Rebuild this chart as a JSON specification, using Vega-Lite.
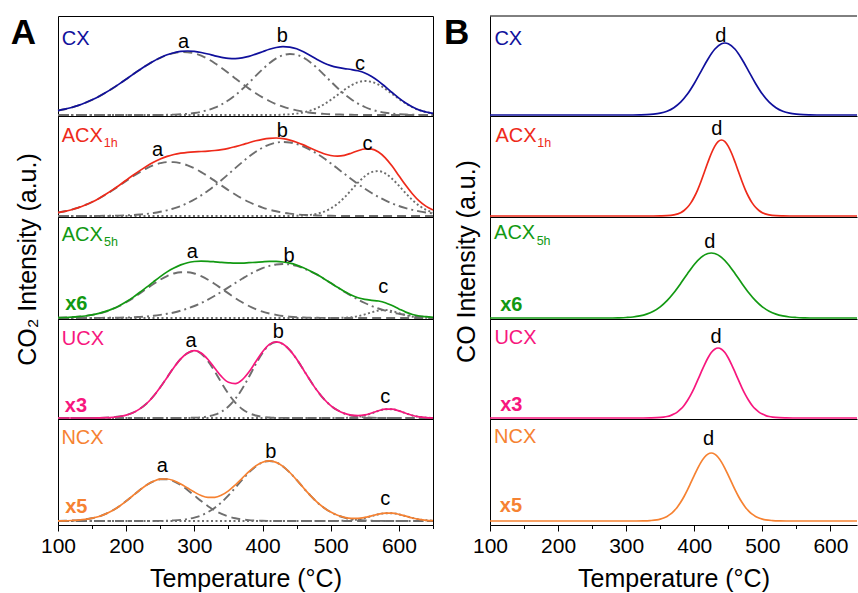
{
  "$schema": "https://vega.github.io/schema/vega-lite/v6.json",
  "background": "white",
  "padding": {"left": 9, "top": 14, "right": 0, "bottom": 0},
  "config": {
    "font": "Liberation Sans",
    "view": {"stroke": "black", "strokeWidth": 1},
    "axis": {"grid": false}
  },
  "datasets": {
    "A": [
      {"s":"CX","T":100,"tot":5.4,"a":5.4,"b":1,"c":1},{"s":"CX","T":110,"tot":6.8,"a":6.8,"b":1,"c":1},{"s":"CX","T":120,"tot":8.5,"a":8.5,"b":1,"c":1},{"s":"CX","T":130,"tot":10.6,"a":10.6,"b":1,"c":1},{"s":"CX","T":140,"tot":13.2,"a":13.2,"b":1,"c":1},{"s":"CX","T":150,"tot":16.2,"a":16.2,"b":1,"c":1},{"s":"CX","T":160,"tot":19.6,"a":19.6,"b":1,"c":1},{"s":"CX","T":170,"tot":23.4,"a":23.4,"b":1,"c":1},{"s":"CX","T":180,"tot":27.6,"a":27.6,"b":1,"c":1},{"s":"CX","T":190,"tot":32.1,"a":32.1,"b":1,"c":1},{"s":"CX","T":200,"tot":36.8,"a":36.8,"b":1,"c":1},{"s":"CX","T":210,"tot":41.6,"a":41.6,"b":1,"c":1},{"s":"CX","T":220,"tot":46.3,"a":46.3,"b":1,"c":1},{"s":"CX","T":230,"tot":50.7,"a":50.7,"b":1,"c":1},{"s":"CX","T":240,"tot":54.8,"a":54.8,"b":1,"c":1},{"s":"CX","T":250,"tot":58.2,"a":58.2,"b":1,"c":1},{"s":"CX","T":260,"tot":61.2,"a":61.0,"b":1.2,"c":1},{"s":"CX","T":270,"tot":63.3,"a":62.9,"b":1.4,"c":1},{"s":"CX","T":280,"tot":64.6,"a":63.9,"b":1.7,"c":1},{"s":"CX","T":290,"tot":65.0,"a":63.8,"b":2.2,"c":1},{"s":"CX","T":300,"tot":64.6,"a":62.6,"b":3.0,"c":1},{"s":"CX","T":310,"tot":63.5,"a":60.3,"b":4.2,"c":1},{"s":"CX","T":320,"tot":62.0,"a":57.0,"b":6.0,"c":1},{"s":"CX","T":330,"tot":60.2,"a":52.8,"b":8.4,"c":1},{"s":"CX","T":340,"tot":58.7,"a":48.1,"b":11.6,"c":1},{"s":"CX","T":350,"tot":57.6,"a":42.9,"b":15.7,"c":1},{"s":"CX","T":360,"tot":57.4,"a":37.6,"b":20.8,"c":1},{"s":"CX","T":370,"tot":58.1,"a":32.4,"b":26.7,"c":1},{"s":"CX","T":380,"tot":59.6,"a":27.4,"b":33.2,"c":1},{"s":"CX","T":390,"tot":61.9,"a":22.8,"b":40.1,"c":1},{"s":"CX","T":400,"tot":64.3,"a":18.6,"b":46.7,"c":1},{"s":"CX","T":410,"tot":66.7,"a":15.0,"b":52.7,"c":1},{"s":"CX","T":420,"tot":68.5,"a":11.9,"b":57.6,"c":1},{"s":"CX","T":430,"tot":69.4,"a":9.3,"b":60.7,"c":1.35},{"s":"CX","T":440,"tot":68.9,"a":7.2,"b":62.0,"c":1.7},{"s":"CX","T":450,"tot":67.2,"a":5.6,"b":61.2,"c":2.4},{"s":"CX","T":460,"tot":64.2,"a":4.3,"b":58.3,"c":3.6},{"s":"CX","T":470,"tot":60.5,"a":3.3,"b":53.8,"c":5.4},{"s":"CX","T":480,"tot":56.6,"a":2.6,"b":48.0,"c":8.0},{"s":"CX","T":490,"tot":53.1,"a":2.1,"b":41.4,"c":11.6},{"s":"CX","T":500,"tot":50.4,"a":1.7,"b":34.6,"c":16.1},{"s":"CX","T":510,"tot":48.6,"a":1.5,"b":28.0,"c":21.1},{"s":"CX","T":520,"tot":47.4,"a":1.3,"b":21.9,"c":26.2},{"s":"CX","T":530,"tot":46.5,"a":1.2,"b":16.7,"c":30.6},{"s":"CX","T":540,"tot":45.2,"a":1.1,"b":12.4,"c":33.7},{"s":"CX","T":550,"tot":43.0,"a":1,"b":9.0,"c":35.0},{"s":"CX","T":560,"tot":39.5,"a":1,"b":6.4,"c":34.1},{"s":"CX","T":570,"tot":34.9,"a":1,"b":4.5,"c":31.4},{"s":"CX","T":580,"tot":29.3,"a":1,"b":3.2,"c":27.1},{"s":"CX","T":590,"tot":23.5,"a":1,"b":2.4,"c":22.1},{"s":"CX","T":600,"tot":17.9,"a":1,"b":1.8,"c":17.1},{"s":"CX","T":610,"tot":13.0,"a":1,"b":1.5,"c":12.5},{"s":"CX","T":620,"tot":9.0,"a":1,"b":1.3,"c":8.7},{"s":"CX","T":630,"tot":5.9,"a":1,"b":1.1,"c":5.8},{"s":"CX","T":640,"tot":4.0,"a":1,"b":1.1,"c":3.9},{"s":"CX","T":650,"tot":2.6,"a":1,"b":1,"c":2.6},
      {"s":"ACX1h","T":100,"tot":4.4,"a":4.4,"b":1,"c":1},{"s":"ACX1h","T":110,"tot":5.7,"a":5.7,"b":1,"c":1},{"s":"ACX1h","T":120,"tot":7.3,"a":7.3,"b":1,"c":1},{"s":"ACX1h","T":130,"tot":9.4,"a":9.4,"b":1,"c":1},{"s":"ACX1h","T":140,"tot":12.0,"a":12.0,"b":1,"c":1},{"s":"ACX1h","T":150,"tot":15.0,"a":15.0,"b":1,"c":1},{"s":"ACX1h","T":160,"tot":18.6,"a":18.5,"b":1.1,"c":1},{"s":"ACX1h","T":170,"tot":22.7,"a":22.5,"b":1.2,"c":1},{"s":"ACX1h","T":180,"tot":27.1,"a":26.8,"b":1.3,"c":1},{"s":"ACX1h","T":190,"tot":31.8,"a":31.4,"b":1.4,"c":1},{"s":"ACX1h","T":200,"tot":36.8,"a":36.1,"b":1.7,"c":1},{"s":"ACX1h","T":210,"tot":41.7,"a":40.7,"b":2.0,"c":1},{"s":"ACX1h","T":220,"tot":46.4,"a":44.9,"b":2.5,"c":1},{"s":"ACX1h","T":230,"tot":50.8,"a":48.7,"b":3.1,"c":1},{"s":"ACX1h","T":240,"tot":54.7,"a":51.7,"b":4.0,"c":1},{"s":"ACX1h","T":250,"tot":58.0,"a":53.8,"b":5.2,"c":1},{"s":"ACX1h","T":260,"tot":60.6,"a":54.9,"b":6.7,"c":1},{"s":"ACX1h","T":270,"tot":62.5,"a":54.9,"b":8.6,"c":1},{"s":"ACX1h","T":280,"tot":63.8,"a":53.8,"b":11.0,"c":1},{"s":"ACX1h","T":290,"tot":64.7,"a":51.7,"b":14.0,"c":1},{"s":"ACX1h","T":300,"tot":65.2,"a":48.7,"b":17.5,"c":1},{"s":"ACX1h","T":310,"tot":65.5,"a":44.9,"b":21.6,"c":1},{"s":"ACX1h","T":320,"tot":65.9,"a":40.7,"b":26.2,"c":1},{"s":"ACX1h","T":330,"tot":66.5,"a":36.1,"b":31.4,"c":1},{"s":"ACX1h","T":340,"tot":67.4,"a":31.4,"b":37.0,"c":1},{"s":"ACX1h","T":350,"tot":68.7,"a":26.8,"b":42.9,"c":1},{"s":"ACX1h","T":360,"tot":70.4,"a":22.5,"b":48.9,"c":1},{"s":"ACX1h","T":370,"tot":72.2,"a":18.5,"b":54.7,"c":1},{"s":"ACX1h","T":380,"tot":74.3,"a":15.0,"b":60.3,"c":1},{"s":"ACX1h","T":390,"tot":76.2,"a":12.0,"b":65.2,"c":1},{"s":"ACX1h","T":400,"tot":77.7,"a":9.4,"b":69.3,"c":1},{"s":"ACX1h","T":410,"tot":78.7,"a":7.3,"b":72.4,"c":1},{"s":"ACX1h","T":420,"tot":79.0,"a":5.7,"b":74.3,"c":1},{"s":"ACX1h","T":430,"tot":78.4,"a":4.4,"b":75.0,"c":1},{"s":"ACX1h","T":440,"tot":76.9,"a":3.4,"b":74.5,"c":1},{"s":"ACX1h","T":450,"tot":74.8,"a":2.6,"b":73.0,"c":1.2},{"s":"ACX1h","T":460,"tot":72.1,"a":2.1,"b":70.5,"c":1.5},{"s":"ACX1h","T":470,"tot":69.0,"a":1.7,"b":67.2,"c":2.1},{"s":"ACX1h","T":480,"tot":66.0,"a":1.5,"b":63.2,"c":3.3},{"s":"ACX1h","T":490,"tot":63.3,"a":1.3,"b":58.7,"c":5.3},{"s":"ACX1h","T":500,"tot":61.5,"a":1.2,"b":53.7,"c":8.6},{"s":"ACX1h","T":510,"tot":60.9,"a":1.1,"b":48.5,"c":13.3},{"s":"ACX1h","T":520,"tot":61.7,"a":1,"b":43.2,"c":19.5},{"s":"ACX1h","T":530,"tot":63.8,"a":1,"b":38.0,"c":26.8},{"s":"ACX1h","T":540,"tot":66.3,"a":1,"b":33.0,"c":34.3},{"s":"ACX1h","T":550,"tot":68.0,"a":1,"b":28.3,"c":40.7},{"s":"ACX1h","T":560,"tot":67.9,"a":1,"b":24.0,"c":44.9},{"s":"ACX1h","T":570,"tot":65.0,"a":1,"b":20.1,"c":45.9},{"s":"ACX1h","T":580,"tot":59.2,"a":1,"b":16.6,"c":43.6},{"s":"ACX1h","T":590,"tot":50.9,"a":1,"b":13.6,"c":38.3},{"s":"ACX1h","T":600,"tot":41.3,"a":1,"b":11.0,"c":31.3},{"s":"ACX1h","T":610,"tot":31.7,"a":1,"b":8.9,"c":23.8},{"s":"ACX1h","T":620,"tot":23.0,"a":1,"b":7.1,"c":16.9},{"s":"ACX1h","T":630,"tot":15.8,"a":1,"b":5.6,"c":11.2},{"s":"ACX1h","T":640,"tot":10.6,"a":1,"b":4.5,"c":7.1},{"s":"ACX1h","T":650,"tot":7.0,"a":1,"b":3.6,"c":4.4},
      {"s":"ACX5h","T":100,"tot":1.3,"a":1.3,"b":1,"c":1},{"s":"ACX5h","T":110,"tot":1.5,"a":1.5,"b":1,"c":1},{"s":"ACX5h","T":120,"tot":1.8,"a":1.8,"b":1,"c":1},{"s":"ACX5h","T":130,"tot":2.3,"a":2.3,"b":1,"c":1},{"s":"ACX5h","T":140,"tot":3.0,"a":3.0,"b":1,"c":1},{"s":"ACX5h","T":150,"tot":4.1,"a":4.1,"b":1,"c":1},{"s":"ACX5h","T":160,"tot":5.6,"a":5.5,"b":1.1,"c":1},{"s":"ACX5h","T":170,"tot":7.6,"a":7.4,"b":1.2,"c":1},{"s":"ACX5h","T":180,"tot":10.1,"a":9.9,"b":1.2,"c":1},{"s":"ACX5h","T":190,"tot":13.3,"a":13.0,"b":1.3,"c":1},{"s":"ACX5h","T":200,"tot":17.2,"a":16.7,"b":1.5,"c":1},{"s":"ACX5h","T":210,"tot":21.6,"a":20.9,"b":1.7,"c":1},{"s":"ACX5h","T":220,"tot":26.7,"a":25.6,"b":2.1,"c":1},{"s":"ACX5h","T":230,"tot":31.8,"a":30.3,"b":2.5,"c":1},{"s":"ACX5h","T":240,"tot":37.2,"a":35.0,"b":3.2,"c":1},{"s":"ACX5h","T":250,"tot":42.4,"a":39.3,"b":4.1,"c":1},{"s":"ACX5h","T":260,"tot":47.1,"a":42.9,"b":5.2,"c":1},{"s":"ACX5h","T":270,"tot":51.0,"a":45.5,"b":6.5,"c":1},{"s":"ACX5h","T":280,"tot":54.1,"a":46.8,"b":8.3,"c":1},{"s":"ACX5h","T":290,"tot":56.3,"a":46.8,"b":10.5,"c":1},{"s":"ACX5h","T":300,"tot":57.5,"a":45.5,"b":13.0,"c":1},{"s":"ACX5h","T":310,"tot":57.9,"a":42.9,"b":16.0,"c":1},{"s":"ACX5h","T":320,"tot":57.7,"a":39.3,"b":19.4,"c":1},{"s":"ACX5h","T":330,"tot":57.2,"a":35.0,"b":23.2,"c":1},{"s":"ACX5h","T":340,"tot":56.6,"a":30.3,"b":27.3,"c":1},{"s":"ACX5h","T":350,"tot":56.2,"a":25.6,"b":31.6,"c":1},{"s":"ACX5h","T":360,"tot":55.9,"a":20.9,"b":36.0,"c":1},{"s":"ACX5h","T":370,"tot":55.9,"a":16.7,"b":40.2,"c":1},{"s":"ACX5h","T":380,"tot":56.3,"a":13.0,"b":44.3,"c":1},{"s":"ACX5h","T":390,"tot":56.7,"a":9.9,"b":47.8,"c":1},{"s":"ACX5h","T":400,"tot":57.2,"a":7.4,"b":50.8,"c":1},{"s":"ACX5h","T":410,"tot":57.6,"a":5.5,"b":53.1,"c":1},{"s":"ACX5h","T":420,"tot":57.6,"a":4.1,"b":54.5,"c":1},{"s":"ACX5h","T":430,"tot":57.0,"a":3.0,"b":55.0,"c":1},{"s":"ACX5h","T":440,"tot":55.8,"a":2.3,"b":54.5,"c":1},{"s":"ACX5h","T":450,"tot":53.9,"a":1.8,"b":53.1,"c":1},{"s":"ACX5h","T":460,"tot":51.3,"a":1.5,"b":50.8,"c":1},{"s":"ACX5h","T":470,"tot":48.1,"a":1.3,"b":47.8,"c":1},{"s":"ACX5h","T":480,"tot":44.5,"a":1.2,"b":44.3,"c":1},{"s":"ACX5h","T":490,"tot":40.3,"a":1.1,"b":40.2,"c":1},{"s":"ACX5h","T":500,"tot":36.0,"a":1,"b":36.0,"c":1},{"s":"ACX5h","T":510,"tot":31.7,"a":1,"b":31.6,"c":1.1},{"s":"ACX5h","T":520,"tot":27.6,"a":1,"b":27.3,"c":1.3},{"s":"ACX5h","T":530,"tot":23.9,"a":1,"b":23.2,"c":1.7},{"s":"ACX5h","T":540,"tot":21.2,"a":1,"b":19.4,"c":2.8},{"s":"ACX5h","T":550,"tot":19.6,"a":1,"b":16.0,"c":4.6},{"s":"ACX5h","T":560,"tot":18.7,"a":1,"b":13.0,"c":6.7},{"s":"ACX5h","T":570,"tot":18.0,"a":1,"b":10.5,"c":8.5},{"s":"ACX5h","T":580,"tot":16.3,"a":1,"b":8.3,"c":9.0},{"s":"ACX5h","T":590,"tot":13.4,"a":1,"b":6.5,"c":7.9},{"s":"ACX5h","T":600,"tot":10.1,"a":1,"b":5.2,"c":5.9},{"s":"ACX5h","T":610,"tot":6.9,"a":1,"b":4.1,"c":3.8},{"s":"ACX5h","T":620,"tot":4.5,"a":1,"b":3.2,"c":2.3},{"s":"ACX5h","T":630,"tot":3.0,"a":1,"b":2.5,"c":1.5},{"s":"ACX5h","T":640,"tot":2.3,"a":1,"b":2.1,"c":1.2},{"s":"ACX5h","T":650,"tot":1.7,"a":1,"b":1.7,"c":1},
      {"s":"UCX","T":100,"tot":1,"a":1,"b":1,"c":1},{"s":"UCX","T":110,"tot":1,"a":1,"b":1,"c":1},{"s":"UCX","T":120,"tot":1,"a":1,"b":1,"c":1},{"s":"UCX","T":130,"tot":1,"a":1,"b":1,"c":1},{"s":"UCX","T":140,"tot":1,"a":1,"b":1,"c":1},{"s":"UCX","T":150,"tot":1,"a":1,"b":1,"c":1},{"s":"UCX","T":160,"tot":1.1,"a":1.1,"b":1,"c":1},{"s":"UCX","T":170,"tot":1.3,"a":1.3,"b":1,"c":1},{"s":"UCX","T":180,"tot":1.7,"a":1.7,"b":1,"c":1},{"s":"UCX","T":190,"tot":2.5,"a":2.5,"b":1,"c":1},{"s":"UCX","T":200,"tot":3.9,"a":3.9,"b":1,"c":1},{"s":"UCX","T":210,"tot":6.3,"a":6.3,"b":1,"c":1},{"s":"UCX","T":220,"tot":10.1,"a":10.1,"b":1,"c":1},{"s":"UCX","T":230,"tot":15.5,"a":15.5,"b":1,"c":1},{"s":"UCX","T":240,"tot":22.8,"a":22.8,"b":1,"c":1},{"s":"UCX","T":250,"tot":31.7,"a":31.7,"b":1,"c":1},{"s":"UCX","T":260,"tot":41.6,"a":41.6,"b":1,"c":1},{"s":"UCX","T":270,"tot":51.6,"a":51.6,"b":1,"c":1},{"s":"UCX","T":280,"tot":60.1,"a":60.1,"b":1,"c":1},{"s":"UCX","T":290,"tot":66.0,"a":65.9,"b":1.1,"c":1},{"s":"UCX","T":300,"tot":68.3,"a":68.0,"b":1.3,"c":1},{"s":"UCX","T":310,"tot":66.0,"a":65.3,"b":1.7,"c":1},{"s":"UCX","T":320,"tot":59.5,"a":57.9,"b":2.6,"c":1},{"s":"UCX","T":330,"tot":50.7,"a":47.4,"b":4.3,"c":1},{"s":"UCX","T":340,"tot":42.3,"a":35.9,"b":7.4,"c":1},{"s":"UCX","T":350,"tot":36.7,"a":25.2,"b":12.5,"c":1},{"s":"UCX","T":360,"tot":35.4,"a":16.4,"b":20.0,"c":1},{"s":"UCX","T":370,"tot":39.1,"a":10.1,"b":30.0,"c":1},{"s":"UCX","T":380,"tot":46.9,"a":5.9,"b":42.0,"c":1},{"s":"UCX","T":390,"tot":57.2,"a":3.5,"b":54.7,"c":1},{"s":"UCX","T":400,"tot":67.2,"a":2.1,"b":66.1,"c":1},{"s":"UCX","T":410,"tot":74.6,"a":1.5,"b":74.1,"c":1},{"s":"UCX","T":420,"tot":77.2,"a":1.2,"b":77.0,"c":1},{"s":"UCX","T":430,"tot":75.0,"a":1.1,"b":74.9,"c":1},{"s":"UCX","T":440,"tot":68.9,"a":1,"b":68.9,"c":1},{"s":"UCX","T":450,"tot":59.9,"a":1,"b":59.9,"c":1},{"s":"UCX","T":460,"tot":49.3,"a":1,"b":49.3,"c":1},{"s":"UCX","T":470,"tot":38.4,"a":1,"b":38.4,"c":1},{"s":"UCX","T":480,"tot":28.4,"a":1,"b":28.4,"c":1},{"s":"UCX","T":490,"tot":20.0,"a":1,"b":20.0,"c":1},{"s":"UCX","T":500,"tot":13.4,"a":1,"b":13.4,"c":1},{"s":"UCX","T":510,"tot":8.7,"a":1,"b":8.7,"c":1},{"s":"UCX","T":520,"tot":5.6,"a":1,"b":5.5,"c":1.1},{"s":"UCX","T":530,"tot":3.9,"a":1,"b":3.5,"c":1.4},{"s":"UCX","T":540,"tot":3.4,"a":1,"b":2.3,"c":2.1},{"s":"UCX","T":550,"tot":4.1,"a":1,"b":1.6,"c":3.5},{"s":"UCX","T":560,"tot":6.0,"a":1,"b":1.3,"c":5.7},{"s":"UCX","T":570,"tot":8.2,"a":1,"b":1.1,"c":8.1},{"s":"UCX","T":580,"tot":9.8,"a":1,"b":1,"c":9.8},{"s":"UCX","T":590,"tot":9.8,"a":1,"b":1,"c":9.8},{"s":"UCX","T":600,"tot":8.1,"a":1,"b":1,"c":8.1},{"s":"UCX","T":610,"tot":5.7,"a":1,"b":1,"c":5.7},{"s":"UCX","T":620,"tot":3.5,"a":1,"b":1,"c":3.5},{"s":"UCX","T":630,"tot":2.1,"a":1,"b":1,"c":2.1},{"s":"UCX","T":640,"tot":1.4,"a":1,"b":1,"c":1.4},{"s":"UCX","T":650,"tot":1.1,"a":1,"b":1,"c":1.1},
      {"s":"NCX","T":100,"tot":4.1,"a":4.1,"b":4,"c":4},{"s":"NCX","T":110,"tot":4.2,"a":4.2,"b":4,"c":4},{"s":"NCX","T":120,"tot":4.5,"a":4.5,"b":4,"c":4},{"s":"NCX","T":130,"tot":4.9,"a":4.9,"b":4,"c":4},{"s":"NCX","T":140,"tot":5.6,"a":5.6,"b":4,"c":4},{"s":"NCX","T":150,"tot":6.8,"a":6.8,"b":4,"c":4},{"s":"NCX","T":160,"tot":8.5,"a":8.5,"b":4,"c":4},{"s":"NCX","T":170,"tot":11.1,"a":11.1,"b":4,"c":4},{"s":"NCX","T":180,"tot":14.5,"a":14.5,"b":4,"c":4},{"s":"NCX","T":190,"tot":18.8,"a":18.8,"b":4,"c":4},{"s":"NCX","T":200,"tot":23.9,"a":23.9,"b":4,"c":4},{"s":"NCX","T":210,"tot":29.5,"a":29.5,"b":4,"c":4},{"s":"NCX","T":220,"tot":35.0,"a":35.0,"b":4,"c":4},{"s":"NCX","T":230,"tot":40.0,"a":40.0,"b":4,"c":4},{"s":"NCX","T":240,"tot":43.7,"a":43.7,"b":4,"c":4},{"s":"NCX","T":250,"tot":45.8,"a":45.7,"b":4.1,"c":4},{"s":"NCX","T":260,"tot":46.0,"a":45.7,"b":4.3,"c":4},{"s":"NCX","T":270,"tot":44.3,"a":43.7,"b":4.6,"c":4},{"s":"NCX","T":280,"tot":41.1,"a":40.0,"b":5.1,"c":4},{"s":"NCX","T":290,"tot":37.0,"a":35.0,"b":6.0,"c":4},{"s":"NCX","T":300,"tot":32.9,"a":29.5,"b":7.4,"c":4},{"s":"NCX","T":310,"tot":29.5,"a":23.9,"b":9.6,"c":4},{"s":"NCX","T":320,"tot":27.7,"a":18.8,"b":12.9,"c":4},{"s":"NCX","T":330,"tot":27.7,"a":14.5,"b":17.2,"c":4},{"s":"NCX","T":340,"tot":29.9,"a":11.1,"b":22.8,"c":4},{"s":"NCX","T":350,"tot":34.1,"a":8.5,"b":29.6,"c":4},{"s":"NCX","T":360,"tot":40.0,"a":6.8,"b":37.2,"c":4},{"s":"NCX","T":370,"tot":46.7,"a":5.6,"b":45.1,"c":4},{"s":"NCX","T":380,"tot":53.4,"a":4.9,"b":52.5,"c":4},{"s":"NCX","T":390,"tot":59.1,"a":4.5,"b":58.6,"c":4},{"s":"NCX","T":400,"tot":62.8,"a":4.2,"b":62.6,"c":4},{"s":"NCX","T":410,"tot":64.1,"a":4.1,"b":64.0,"c":4},{"s":"NCX","T":420,"tot":62.6,"a":4,"b":62.6,"c":4},{"s":"NCX","T":430,"tot":58.6,"a":4,"b":58.6,"c":4},{"s":"NCX","T":440,"tot":52.5,"a":4,"b":52.5,"c":4},{"s":"NCX","T":450,"tot":45.1,"a":4,"b":45.1,"c":4},{"s":"NCX","T":460,"tot":37.2,"a":4,"b":37.2,"c":4},{"s":"NCX","T":470,"tot":29.6,"a":4,"b":29.6,"c":4},{"s":"NCX","T":480,"tot":22.8,"a":4,"b":22.8,"c":4},{"s":"NCX","T":490,"tot":17.2,"a":4,"b":17.2,"c":4},{"s":"NCX","T":500,"tot":12.9,"a":4,"b":12.9,"c":4},{"s":"NCX","T":510,"tot":9.7,"a":4,"b":9.6,"c":4.1},{"s":"NCX","T":520,"tot":7.7,"a":4,"b":7.4,"c":4.3},{"s":"NCX","T":530,"tot":6.7,"a":4,"b":6.0,"c":4.7},{"s":"NCX","T":540,"tot":6.7,"a":4,"b":5.1,"c":5.6},{"s":"NCX","T":550,"tot":7.6,"a":4,"b":4.6,"c":7.0},{"s":"NCX","T":560,"tot":9.2,"a":4,"b":4.3,"c":8.9},{"s":"NCX","T":570,"tot":10.8,"a":4,"b":4.1,"c":10.7},{"s":"NCX","T":580,"tot":11.8,"a":4,"b":4,"c":11.8},{"s":"NCX","T":590,"tot":11.8,"a":4,"b":4,"c":11.8},{"s":"NCX","T":600,"tot":10.7,"a":4,"b":4,"c":10.7},{"s":"NCX","T":610,"tot":8.9,"a":4,"b":4,"c":8.9},{"s":"NCX","T":620,"tot":7.0,"a":4,"b":4,"c":7.0},{"s":"NCX","T":630,"tot":5.6,"a":4,"b":4,"c":5.6},{"s":"NCX","T":640,"tot":4.7,"a":4,"b":4,"c":4.7},{"s":"NCX","T":650,"tot":4.3,"a":4,"b":4,"c":4.3}
    ],
    "B": [
      {"s":"CX","T":100,"v":1},{"s":"CX","T":310,"v":1},{"s":"CX","T":320,"v":1.1},{"s":"CX","T":330,"v":1.3},{"s":"CX","T":340,"v":1.8},{"s":"CX","T":350,"v":2.8},{"s":"CX","T":360,"v":4.8},{"s":"CX","T":370,"v":8.3},{"s":"CX","T":380,"v":13.8},{"s":"CX","T":390,"v":21.9},{"s":"CX","T":400,"v":32.5},{"s":"CX","T":410,"v":44.7},{"s":"CX","T":420,"v":56.8},{"s":"CX","T":430,"v":66.7},{"s":"CX","T":440,"v":72.3},{"s":"CX","T":445,"v":73.0},{"s":"CX","T":450,"v":72.3},{"s":"CX","T":460,"v":66.7},{"s":"CX","T":470,"v":56.8},{"s":"CX","T":480,"v":44.7},{"s":"CX","T":490,"v":32.5},{"s":"CX","T":500,"v":21.9},{"s":"CX","T":510,"v":13.8},{"s":"CX","T":520,"v":8.3},{"s":"CX","T":530,"v":4.8},{"s":"CX","T":540,"v":2.8},{"s":"CX","T":550,"v":1.8},{"s":"CX","T":560,"v":1.3},{"s":"CX","T":570,"v":1.1},{"s":"CX","T":580,"v":1},{"s":"CX","T":650,"v":1},
      {"s":"ACX1h","T":100,"v":1},{"s":"ACX1h","T":340,"v":1},{"s":"ACX1h","T":350,"v":1.1},{"s":"ACX1h","T":360,"v":1.3},{"s":"ACX1h","T":370,"v":2.1},{"s":"ACX1h","T":380,"v":4.3},{"s":"ACX1h","T":385,"v":6.5},{"s":"ACX1h","T":390,"v":9.7},{"s":"ACX1h","T":395,"v":14.1},{"s":"ACX1h","T":400,"v":20.0},{"s":"ACX1h","T":405,"v":27.2},{"s":"ACX1h","T":410,"v":35.8},{"s":"ACX1h","T":415,"v":45.2},{"s":"ACX1h","T":420,"v":54.7},{"s":"ACX1h","T":425,"v":63.5},{"s":"ACX1h","T":430,"v":70.7},{"s":"ACX1h","T":435,"v":75.4},{"s":"ACX1h","T":440,"v":77.0},{"s":"ACX1h","T":445,"v":75.4},{"s":"ACX1h","T":450,"v":70.7},{"s":"ACX1h","T":455,"v":63.5},{"s":"ACX1h","T":460,"v":54.7},{"s":"ACX1h","T":465,"v":45.2},{"s":"ACX1h","T":470,"v":35.8},{"s":"ACX1h","T":475,"v":27.2},{"s":"ACX1h","T":480,"v":20.0},{"s":"ACX1h","T":485,"v":14.1},{"s":"ACX1h","T":490,"v":9.7},{"s":"ACX1h","T":495,"v":6.5},{"s":"ACX1h","T":500,"v":4.3},{"s":"ACX1h","T":510,"v":2.1},{"s":"ACX1h","T":520,"v":1.3},{"s":"ACX1h","T":530,"v":1.1},{"s":"ACX1h","T":540,"v":1},{"s":"ACX1h","T":650,"v":1},
      {"s":"ACX5h","T":100,"v":1},{"s":"ACX5h","T":280,"v":1},{"s":"ACX5h","T":290,"v":1.2},{"s":"ACX5h","T":300,"v":1.5},{"s":"ACX5h","T":310,"v":2.0},{"s":"ACX5h","T":320,"v":3.1},{"s":"ACX5h","T":330,"v":4.9},{"s":"ACX5h","T":340,"v":7.8},{"s":"ACX5h","T":350,"v":12.2},{"s":"ACX5h","T":360,"v":18.4},{"s":"ACX5h","T":370,"v":26.3},{"s":"ACX5h","T":380,"v":35.5},{"s":"ACX5h","T":390,"v":45.3},{"s":"ACX5h","T":400,"v":54.5},{"s":"ACX5h","T":410,"v":61.6},{"s":"ACX5h","T":420,"v":65.5},{"s":"ACX5h","T":425,"v":66.0},{"s":"ACX5h","T":430,"v":65.5},{"s":"ACX5h","T":440,"v":61.6},{"s":"ACX5h","T":450,"v":54.5},{"s":"ACX5h","T":460,"v":45.3},{"s":"ACX5h","T":470,"v":35.5},{"s":"ACX5h","T":480,"v":26.3},{"s":"ACX5h","T":490,"v":18.4},{"s":"ACX5h","T":500,"v":12.2},{"s":"ACX5h","T":510,"v":7.8},{"s":"ACX5h","T":520,"v":4.9},{"s":"ACX5h","T":530,"v":3.1},{"s":"ACX5h","T":540,"v":2.0},{"s":"ACX5h","T":550,"v":1.5},{"s":"ACX5h","T":560,"v":1.2},{"s":"ACX5h","T":570,"v":1},{"s":"ACX5h","T":650,"v":1},
      {"s":"UCX","T":100,"v":1},{"s":"UCX","T":325,"v":1},{"s":"UCX","T":335,"v":1.1},{"s":"UCX","T":345,"v":1.3},{"s":"UCX","T":355,"v":1.9},{"s":"UCX","T":360,"v":2.5},{"s":"UCX","T":365,"v":3.4},{"s":"UCX","T":370,"v":4.9},{"s":"UCX","T":375,"v":6.9},{"s":"UCX","T":380,"v":9.8},{"s":"UCX","T":385,"v":13.6},{"s":"UCX","T":390,"v":18.5},{"s":"UCX","T":395,"v":24.4},{"s":"UCX","T":400,"v":31.2},{"s":"UCX","T":405,"v":38.8},{"s":"UCX","T":410,"v":46.6},{"s":"UCX","T":415,"v":54.2},{"s":"UCX","T":420,"v":61.0},{"s":"UCX","T":425,"v":66.4},{"s":"UCX","T":430,"v":69.8},{"s":"UCX","T":435,"v":71.0},{"s":"UCX","T":440,"v":69.8},{"s":"UCX","T":445,"v":66.4},{"s":"UCX","T":450,"v":61.0},{"s":"UCX","T":455,"v":54.2},{"s":"UCX","T":460,"v":46.6},{"s":"UCX","T":465,"v":38.8},{"s":"UCX","T":470,"v":31.2},{"s":"UCX","T":475,"v":24.4},{"s":"UCX","T":480,"v":18.5},{"s":"UCX","T":485,"v":13.6},{"s":"UCX","T":490,"v":9.8},{"s":"UCX","T":495,"v":6.9},{"s":"UCX","T":500,"v":4.9},{"s":"UCX","T":505,"v":3.4},{"s":"UCX","T":510,"v":2.5},{"s":"UCX","T":515,"v":1.9},{"s":"UCX","T":525,"v":1.3},{"s":"UCX","T":535,"v":1.1},{"s":"UCX","T":545,"v":1},{"s":"UCX","T":650,"v":1},
      {"s":"NCX","T":100,"v":4},{"s":"NCX","T":315,"v":4},{"s":"NCX","T":325,"v":4.1},{"s":"NCX","T":335,"v":4.4},{"s":"NCX","T":345,"v":5.1},{"s":"NCX","T":350,"v":5.9},{"s":"NCX","T":355,"v":7.0},{"s":"NCX","T":360,"v":8.6},{"s":"NCX","T":365,"v":10.8},{"s":"NCX","T":370,"v":13.9},{"s":"NCX","T":375,"v":17.8},{"s":"NCX","T":380,"v":22.7},{"s":"NCX","T":385,"v":28.5},{"s":"NCX","T":390,"v":35.1},{"s":"NCX","T":395,"v":42.3},{"s":"NCX","T":400,"v":49.6},{"s":"NCX","T":405,"v":56.7},{"s":"NCX","T":410,"v":62.9},{"s":"NCX","T":415,"v":67.8},{"s":"NCX","T":420,"v":70.9},{"s":"NCX","T":425,"v":72.0},{"s":"NCX","T":430,"v":70.9},{"s":"NCX","T":435,"v":67.8},{"s":"NCX","T":440,"v":62.9},{"s":"NCX","T":445,"v":56.7},{"s":"NCX","T":450,"v":49.6},{"s":"NCX","T":455,"v":42.3},{"s":"NCX","T":460,"v":35.1},{"s":"NCX","T":465,"v":28.5},{"s":"NCX","T":470,"v":22.7},{"s":"NCX","T":475,"v":17.8},{"s":"NCX","T":480,"v":13.9},{"s":"NCX","T":485,"v":10.8},{"s":"NCX","T":490,"v":8.6},{"s":"NCX","T":495,"v":7.0},{"s":"NCX","T":500,"v":5.9},{"s":"NCX","T":505,"v":5.1},{"s":"NCX","T":515,"v":4.4},{"s":"NCX","T":525,"v":4.1},{"s":"NCX","T":535,"v":4},{"s":"NCX","T":650,"v":4}
    ],
    "L": [
      {"p":"A","s":"CX","k":"peak","T":284,"v":68,"t":"a"},{"p":"A","s":"CX","k":"peak","T":429,"v":74.3,"t":"b"},{"p":"A","s":"CX","k":"peak","T":543,"v":46,"t":"c"},
      {"p":"A","s":"ACX1h","k":"peak","T":246,"v":61,"t":"a"},{"p":"A","s":"ACX1h","k":"peak","T":429,"v":80,"t":"b"},{"p":"A","s":"ACX1h","k":"peak","T":554,"v":67,"t":"c"},
      {"p":"A","s":"ACX5h","k":"peak","T":297,"v":60.7,"t":"a"},{"p":"A","s":"ACX5h","k":"peak","T":439,"v":57.3,"t":"b"},{"p":"A","s":"ACX5h","k":"peak","T":577,"v":25.7,"t":"c"},
      {"p":"A","s":"UCX","k":"peak","T":295,"v":72.3,"t":"a"},{"p":"A","s":"UCX","k":"peak","T":423,"v":80.7,"t":"b"},{"p":"A","s":"UCX","k":"peak","T":580,"v":15.7,"t":"c"},
      {"p":"A","s":"NCX","k":"peak","T":253,"v":53.3,"t":"a"},{"p":"A","s":"NCX","k":"peak","T":412,"v":66.7,"t":"b"},{"p":"A","s":"NCX","k":"peak","T":580,"v":20,"t":"c"},
      {"p":"B","s":"CX","k":"peak","T":439,"v":74.3,"t":"d"},{"p":"B","s":"ACX1h","k":"peak","T":433,"v":82,"t":"d"},{"p":"B","s":"ACX5h","k":"peak","T":423,"v":70.7,"t":"d"},{"p":"B","s":"UCX","k":"peak","T":432,"v":75.7,"t":"d"},{"p":"B","s":"NCX","k":"peak","T":421,"v":80,"t":"d"},
      {"p":"A","s":"CX","k":"name","T":105.5,"v":71,"t":"CX"},
      {"p":"A","s":"ACX1h","k":"name","T":105.5,"v":75.3,"t":"ACX"},{"p":"A","s":"ACX1h","k":"sub","T":167,"v":70.5,"t":"1h"},
      {"p":"A","s":"ACX5h","k":"name","T":105.5,"v":78.3,"t":"ACX"},{"p":"A","s":"ACX5h","k":"sub","T":167.5,"v":73,"t":"5h"},{"p":"A","s":"ACX5h","k":"mult","T":110.5,"v":9,"t":"x6"},
      {"p":"A","s":"UCX","k":"name","T":105.5,"v":74,"t":"UCX"},{"p":"A","s":"UCX","k":"mult","T":110,"v":7.3,"t":"x3"},
      {"p":"A","s":"NCX","k":"name","T":105,"v":80.7,"t":"NCX"},{"p":"A","s":"NCX","k":"mult","T":110.5,"v":12.3,"t":"x5"},
      {"p":"B","s":"CX","k":"name","T":106.5,"v":71,"t":"CX"},
      {"p":"B","s":"ACX1h","k":"name","T":108,"v":75.3,"t":"ACX"},{"p":"B","s":"ACX1h","k":"sub","T":169.5,"v":70.5,"t":"1h"},
      {"p":"B","s":"ACX5h","k":"name","T":106,"v":79.7,"t":"ACX"},{"p":"B","s":"ACX5h","k":"sub","T":168.5,"v":74,"t":"5h"},{"p":"B","s":"ACX5h","k":"mult","T":115,"v":8.3,"t":"x6"},
      {"p":"B","s":"UCX","k":"name","T":106.5,"v":74.7,"t":"UCX"},{"p":"B","s":"UCX","k":"mult","T":115,"v":8,"t":"x3"},
      {"p":"B","s":"NCX","k":"name","T":106,"v":81.7,"t":"NCX"},{"p":"B","s":"NCX","k":"mult","T":114.5,"v":13.3,"t":"x5"}
    ],
    "E": [{"T":100,"v":100},{"T":639,"v":100}]
  },
  "spacing": 5,
  "hconcat": [
    {
      "spacing": 0,
      "bounds": "flush",
      "vconcat": [
        {
          "width": 375, "height": 100,
          "encoding": {
            "x": {"field": "T", "type": "quantitative", "scale": {"domain": [100, 650], "nice": false, "zero": false}, "axis": null},
            "y": {"field": "v", "type": "quantitative", "scale": {"domain": [0, 100], "nice": false, "zero": false},
                  "axis": {"title": "A", "titleAngle": 0, "titleFontSize": 35, "titleFontWeight": "bold", "titleColor": "black", "titleX": -47.7, "titleY": 27, "titleAlign": "left", "titleBaseline": "alphabetic", "labels": false, "ticks": false, "domain": false}}
          },
          "layer": [
            {"data": {"name": "A"}, "transform": [{"filter": "datum.s === 'CX'"}, {"fold": ["a", "b", "c"], "as": ["k", "v"]}],
             "mark": {"type": "line", "color": "#6e6e6e", "strokeWidth": 1.9, "interpolate": "monotone"},
             "encoding": {"strokeDash": {"field": "k", "type": "nominal", "scale": {"domain": ["a", "b", "c"], "range": [[9, 5], [9, 4, 2, 4], [2, 2.5]]}, "legend": null}}},
            {"data": {"name": "A"}, "transform": [{"filter": "datum.s === 'CX'"}, {"fold": ["tot"], "as": ["k", "v"]}],
             "mark": {"type": "line", "color": "#10109c", "strokeWidth": 1.7, "interpolate": "monotone"}},
            {"data": {"name": "L"}, "transform": [{"filter": "datum.p === 'A' && datum.s === 'CX' && datum.k === 'peak'"}],
             "mark": {"type": "text", "fontSize": 20, "color": "black", "align": "center", "baseline": "alphabetic"},
             "encoding": {"text": {"field": "t"}}},
            {"data": {"name": "L"}, "transform": [{"filter": "datum.p === 'A' && datum.s === 'CX' && datum.k === 'name'"}],
             "mark": {"type": "text", "fontSize": 20, "color": "#10109c", "align": "left", "baseline": "alphabetic"},
             "encoding": {"text": {"field": "t"}}}
          ]
        },
        {
          "width": 375, "height": 101,
          "encoding": {
            "x": {"field": "T", "type": "quantitative", "scale": {"domain": [100, 650], "nice": false, "zero": false}, "axis": null},
            "y": {"field": "v", "type": "quantitative", "scale": {"domain": [0, 101], "nice": false, "zero": false}, "axis": null}
          },
          "layer": [
            {"data": {"name": "A"}, "transform": [{"filter": "datum.s === 'ACX1h'"}, {"fold": ["a", "b", "c"], "as": ["k", "v"]}],
             "mark": {"type": "line", "color": "#6e6e6e", "strokeWidth": 1.9, "interpolate": "monotone"},
             "encoding": {"strokeDash": {"field": "k", "type": "nominal", "scale": {"domain": ["a", "b", "c"], "range": [[9, 5], [9, 4, 2, 4], [2, 2.5]]}, "legend": null}}},
            {"data": {"name": "A"}, "transform": [{"filter": "datum.s === 'ACX1h'"}, {"fold": ["tot"], "as": ["k", "v"]}],
             "mark": {"type": "line", "color": "#ee2a1a", "strokeWidth": 1.7, "interpolate": "monotone"}},
            {"data": {"name": "L"}, "transform": [{"filter": "datum.p === 'A' && datum.s === 'ACX1h' && datum.k === 'peak'"}],
             "mark": {"type": "text", "fontSize": 20, "color": "black", "align": "center", "baseline": "alphabetic"},
             "encoding": {"text": {"field": "t"}}},
            {"data": {"name": "L"}, "transform": [{"filter": "datum.p === 'A' && datum.s === 'ACX1h' && datum.k === 'name'"}],
             "mark": {"type": "text", "fontSize": 20, "color": "#ee2a1a", "align": "left", "baseline": "alphabetic"},
             "encoding": {"text": {"field": "t"}}},
            {"data": {"name": "L"}, "transform": [{"filter": "datum.p === 'A' && datum.s === 'ACX1h' && datum.k === 'sub'"}],
             "mark": {"type": "text", "fontSize": 12.5, "color": "#ee2a1a", "align": "left", "baseline": "alphabetic"},
             "encoding": {"text": {"field": "t"}}}
          ]
        },
        {
          "width": 375, "height": 102,
          "encoding": {
            "x": {"field": "T", "type": "quantitative", "scale": {"domain": [100, 650], "nice": false, "zero": false}, "axis": null},
            "y": {"field": "v", "type": "quantitative", "scale": {"domain": [0, 102], "nice": false, "zero": false},
                  "axis": {"title": "CO₂ Intensity (a.u.)", "titleFontSize": 25, "titleFontWeight": "normal", "titleColor": "black", "titleX": -23, "titleY": 42, "titleAlign": "center", "titleBaseline": "alphabetic", "labels": false, "ticks": false, "domain": false}}
          },
          "layer": [
            {"data": {"name": "A"}, "transform": [{"filter": "datum.s === 'ACX5h'"}, {"fold": ["a", "b", "c"], "as": ["k", "v"]}],
             "mark": {"type": "line", "color": "#6e6e6e", "strokeWidth": 1.9, "interpolate": "monotone"},
             "encoding": {"strokeDash": {"field": "k", "type": "nominal", "scale": {"domain": ["a", "b", "c"], "range": [[9, 5], [9, 4, 2, 4], [2, 2.5]]}, "legend": null}}},
            {"data": {"name": "A"}, "transform": [{"filter": "datum.s === 'ACX5h'"}, {"fold": ["tot"], "as": ["k", "v"]}],
             "mark": {"type": "line", "color": "#129912", "strokeWidth": 1.7, "interpolate": "monotone"}},
            {"data": {"name": "L"}, "transform": [{"filter": "datum.p === 'A' && datum.s === 'ACX5h' && datum.k === 'peak'"}],
             "mark": {"type": "text", "fontSize": 20, "color": "black", "align": "center", "baseline": "alphabetic"},
             "encoding": {"text": {"field": "t"}}},
            {"data": {"name": "L"}, "transform": [{"filter": "datum.p === 'A' && datum.s === 'ACX5h' && datum.k === 'name'"}],
             "mark": {"type": "text", "fontSize": 20, "color": "#129912", "align": "left", "baseline": "alphabetic"},
             "encoding": {"text": {"field": "t"}}},
            {"data": {"name": "L"}, "transform": [{"filter": "datum.p === 'A' && datum.s === 'ACX5h' && datum.k === 'sub'"}],
             "mark": {"type": "text", "fontSize": 12.5, "color": "#129912", "align": "left", "baseline": "alphabetic"},
             "encoding": {"text": {"field": "t"}}},
            {"data": {"name": "L"}, "transform": [{"filter": "datum.p === 'A' && datum.s === 'ACX5h' && datum.k === 'mult'"}],
             "mark": {"type": "text", "fontSize": 20, "fontWeight": "bold", "color": "#129912", "align": "left", "baseline": "alphabetic"},
             "encoding": {"text": {"field": "t"}}}
          ]
        },
        {
          "width": 375, "height": 100,
          "encoding": {
            "x": {"field": "T", "type": "quantitative", "scale": {"domain": [100, 650], "nice": false, "zero": false}, "axis": null},
            "y": {"field": "v", "type": "quantitative", "scale": {"domain": [0, 100], "nice": false, "zero": false}, "axis": null}
          },
          "layer": [
            {"data": {"name": "A"}, "transform": [{"filter": "datum.s === 'UCX'"}, {"fold": ["a", "b", "c"], "as": ["k", "v"]}],
             "mark": {"type": "line", "color": "#6e6e6e", "strokeWidth": 1.9, "interpolate": "monotone"},
             "encoding": {"strokeDash": {"field": "k", "type": "nominal", "scale": {"domain": ["a", "b", "c"], "range": [[9, 5], [9, 4, 2, 4], [2, 2.5]]}, "legend": null}}},
            {"data": {"name": "A"}, "transform": [{"filter": "datum.s === 'UCX'"}, {"fold": ["tot"], "as": ["k", "v"]}],
             "mark": {"type": "line", "color": "#f7177e", "strokeWidth": 1.7, "interpolate": "monotone"}},
            {"data": {"name": "L"}, "transform": [{"filter": "datum.p === 'A' && datum.s === 'UCX' && datum.k === 'peak'"}],
             "mark": {"type": "text", "fontSize": 20, "color": "black", "align": "center", "baseline": "alphabetic"},
             "encoding": {"text": {"field": "t"}}},
            {"data": {"name": "L"}, "transform": [{"filter": "datum.p === 'A' && datum.s === 'UCX' && datum.k === 'name'"}],
             "mark": {"type": "text", "fontSize": 20, "color": "#f7177e", "align": "left", "baseline": "alphabetic"},
             "encoding": {"text": {"field": "t"}}},
            {"data": {"name": "L"}, "transform": [{"filter": "datum.p === 'A' && datum.s === 'UCX' && datum.k === 'mult'"}],
             "mark": {"type": "text", "fontSize": 20, "fontWeight": "bold", "color": "#f7177e", "align": "left", "baseline": "alphabetic"},
             "encoding": {"text": {"field": "t"}}}
          ]
        },
        {
          "width": 375, "height": 106,
          "encoding": {
            "x": {"field": "T", "type": "quantitative", "scale": {"domain": [100, 650], "nice": false, "zero": false},
                  "axis": {"values": [100, 150, 200, 250, 300, 350, 400, 450, 500, 550, 600, 650], "labelExpr": "datum.value % 100 === 0 && datum.value < 650 ? datum.label : ''", "labelFlush": false, "labelOverlap": false, "labelFontSize": 21, "labelColor": "black", "labelPadding": 4, "tickColor": "black", "tickWidth": 1, "tickSize": {"condition": {"test": "datum.value % 100 === 0", "value": 6}, "value": 3.5}, "domainColor": "black", "domainWidth": 1, "title": "Temperature (°C)", "titleFontSize": 25, "titleFontWeight": "normal", "titleColor": "black", "titlePadding": 10}},
            "y": {"field": "v", "type": "quantitative", "scale": {"domain": [0, 106], "nice": false, "zero": false}, "axis": null}
          },
          "layer": [
            {"data": {"name": "A"}, "transform": [{"filter": "datum.s === 'NCX'"}, {"fold": ["a", "b", "c"], "as": ["k", "v"]}],
             "mark": {"type": "line", "color": "#6e6e6e", "strokeWidth": 1.9, "interpolate": "monotone"},
             "encoding": {"strokeDash": {"field": "k", "type": "nominal", "scale": {"domain": ["a", "b", "c"], "range": [[9, 5], [9, 4, 2, 4], [2, 2.5]]}, "legend": null}}},
            {"data": {"name": "A"}, "transform": [{"filter": "datum.s === 'NCX'"}, {"fold": ["tot"], "as": ["k", "v"]}],
             "mark": {"type": "line", "color": "#f68232", "strokeWidth": 1.7, "interpolate": "monotone"}},
            {"data": {"name": "L"}, "transform": [{"filter": "datum.p === 'A' && datum.s === 'NCX' && datum.k === 'peak'"}],
             "mark": {"type": "text", "fontSize": 20, "color": "black", "align": "center", "baseline": "alphabetic"},
             "encoding": {"text": {"field": "t"}}},
            {"data": {"name": "L"}, "transform": [{"filter": "datum.p === 'A' && datum.s === 'NCX' && datum.k === 'name'"}],
             "mark": {"type": "text", "fontSize": 20, "color": "#f68232", "align": "left", "baseline": "alphabetic"},
             "encoding": {"text": {"field": "t"}}},
            {"data": {"name": "L"}, "transform": [{"filter": "datum.p === 'A' && datum.s === 'NCX' && datum.k === 'mult'"}],
             "mark": {"type": "text", "fontSize": 20, "fontWeight": "bold", "color": "#f68232", "align": "left", "baseline": "alphabetic"},
             "encoding": {"text": {"field": "t"}}}
          ]
        }
      ]
    },
    {
      "spacing": 0,
      "bounds": "flush",
      "vconcat": [
        {
          "width": 367, "height": 100, "view": {"stroke": null},
          "encoding": {
            "x": {"field": "T", "type": "quantitative", "scale": {"domain": [100, 639], "nice": false, "zero": false}, "axis": {"domain": true, "domainColor": "black", "labels": false, "ticks": false, "title": null}},
            "y": {"field": "v", "type": "quantitative", "scale": {"domain": [0, 100], "nice": false, "zero": false},
                  "axis": {"domain": true, "domainColor": "black", "labels": false, "ticks": false, "title": "B", "titleAngle": 0, "titleFontSize": 35, "titleFontWeight": "bold", "titleColor": "black", "titleX": -46.5, "titleY": 27, "titleAlign": "left", "titleBaseline": "alphabetic"}}
          },
          "layer": [
            {"data": {"name": "E"}, "mark": {"type": "line", "color": "black", "strokeWidth": 1}},
            {"data": {"name": "B"}, "transform": [{"filter": "datum.s === 'CX'"}],
             "mark": {"type": "line", "color": "#10109c", "strokeWidth": 1.7, "interpolate": "monotone", "clip": true}},
            {"data": {"name": "L"}, "transform": [{"filter": "datum.p === 'B' && datum.s === 'CX' && datum.k === 'peak'"}],
             "mark": {"type": "text", "fontSize": 20, "color": "black", "align": "center", "baseline": "alphabetic"},
             "encoding": {"text": {"field": "t"}}},
            {"data": {"name": "L"}, "transform": [{"filter": "datum.p === 'B' && datum.s === 'CX' && datum.k === 'name'"}],
             "mark": {"type": "text", "fontSize": 20, "color": "#10109c", "align": "left", "baseline": "alphabetic"},
             "encoding": {"text": {"field": "t"}}}
          ]
        },
        {
          "width": 367, "height": 101, "view": {"stroke": null},
          "encoding": {
            "x": {"field": "T", "type": "quantitative", "scale": {"domain": [100, 639], "nice": false, "zero": false}, "axis": {"domain": true, "domainColor": "black", "labels": false, "ticks": false, "title": null}},
            "y": {"field": "v", "type": "quantitative", "scale": {"domain": [0, 101], "nice": false, "zero": false}, "axis": {"domain": true, "domainColor": "black", "labels": false, "ticks": false, "title": null}}
          },
          "layer": [
            {"data": {"name": "B"}, "transform": [{"filter": "datum.s === 'ACX1h'"}],
             "mark": {"type": "line", "color": "#ee2a1a", "strokeWidth": 1.7, "interpolate": "monotone", "clip": true}},
            {"data": {"name": "L"}, "transform": [{"filter": "datum.p === 'B' && datum.s === 'ACX1h' && datum.k === 'peak'"}],
             "mark": {"type": "text", "fontSize": 20, "color": "black", "align": "center", "baseline": "alphabetic"},
             "encoding": {"text": {"field": "t"}}},
            {"data": {"name": "L"}, "transform": [{"filter": "datum.p === 'B' && datum.s === 'ACX1h' && datum.k === 'name'"}],
             "mark": {"type": "text", "fontSize": 20, "color": "#ee2a1a", "align": "left", "baseline": "alphabetic"},
             "encoding": {"text": {"field": "t"}}},
            {"data": {"name": "L"}, "transform": [{"filter": "datum.p === 'B' && datum.s === 'ACX1h' && datum.k === 'sub'"}],
             "mark": {"type": "text", "fontSize": 12.5, "color": "#ee2a1a", "align": "left", "baseline": "alphabetic"},
             "encoding": {"text": {"field": "t"}}}
          ]
        },
        {
          "width": 367, "height": 102, "view": {"stroke": null},
          "encoding": {
            "x": {"field": "T", "type": "quantitative", "scale": {"domain": [100, 639], "nice": false, "zero": false}, "axis": {"domain": true, "domainColor": "black", "labels": false, "ticks": false, "title": null}},
            "y": {"field": "v", "type": "quantitative", "scale": {"domain": [0, 102], "nice": false, "zero": false},
                  "axis": {"domain": true, "domainColor": "black", "labels": false, "ticks": false, "title": "CO Intensity (a.u.)", "titleFontSize": 25, "titleFontWeight": "normal", "titleColor": "black", "titleX": -16, "titleY": 44, "titleAlign": "center", "titleBaseline": "alphabetic"}}
          },
          "layer": [
            {"data": {"name": "B"}, "transform": [{"filter": "datum.s === 'ACX5h'"}],
             "mark": {"type": "line", "color": "#129912", "strokeWidth": 1.7, "interpolate": "monotone", "clip": true}},
            {"data": {"name": "L"}, "transform": [{"filter": "datum.p === 'B' && datum.s === 'ACX5h' && datum.k === 'peak'"}],
             "mark": {"type": "text", "fontSize": 20, "color": "black", "align": "center", "baseline": "alphabetic"},
             "encoding": {"text": {"field": "t"}}},
            {"data": {"name": "L"}, "transform": [{"filter": "datum.p === 'B' && datum.s === 'ACX5h' && datum.k === 'name'"}],
             "mark": {"type": "text", "fontSize": 20, "color": "#129912", "align": "left", "baseline": "alphabetic"},
             "encoding": {"text": {"field": "t"}}},
            {"data": {"name": "L"}, "transform": [{"filter": "datum.p === 'B' && datum.s === 'ACX5h' && datum.k === 'sub'"}],
             "mark": {"type": "text", "fontSize": 12.5, "color": "#129912", "align": "left", "baseline": "alphabetic"},
             "encoding": {"text": {"field": "t"}}},
            {"data": {"name": "L"}, "transform": [{"filter": "datum.p === 'B' && datum.s === 'ACX5h' && datum.k === 'mult'"}],
             "mark": {"type": "text", "fontSize": 20, "fontWeight": "bold", "color": "#129912", "align": "left", "baseline": "alphabetic"},
             "encoding": {"text": {"field": "t"}}}
          ]
        },
        {
          "width": 367, "height": 100, "view": {"stroke": null},
          "encoding": {
            "x": {"field": "T", "type": "quantitative", "scale": {"domain": [100, 639], "nice": false, "zero": false}, "axis": {"domain": true, "domainColor": "black", "labels": false, "ticks": false, "title": null}},
            "y": {"field": "v", "type": "quantitative", "scale": {"domain": [0, 100], "nice": false, "zero": false}, "axis": {"domain": true, "domainColor": "black", "labels": false, "ticks": false, "title": null}}
          },
          "layer": [
            {"data": {"name": "B"}, "transform": [{"filter": "datum.s === 'UCX'"}],
             "mark": {"type": "line", "color": "#f7177e", "strokeWidth": 1.7, "interpolate": "monotone", "clip": true}},
            {"data": {"name": "L"}, "transform": [{"filter": "datum.p === 'B' && datum.s === 'UCX' && datum.k === 'peak'"}],
             "mark": {"type": "text", "fontSize": 20, "color": "black", "align": "center", "baseline": "alphabetic"},
             "encoding": {"text": {"field": "t"}}},
            {"data": {"name": "L"}, "transform": [{"filter": "datum.p === 'B' && datum.s === 'UCX' && datum.k === 'name'"}],
             "mark": {"type": "text", "fontSize": 20, "color": "#f7177e", "align": "left", "baseline": "alphabetic"},
             "encoding": {"text": {"field": "t"}}},
            {"data": {"name": "L"}, "transform": [{"filter": "datum.p === 'B' && datum.s === 'UCX' && datum.k === 'mult'"}],
             "mark": {"type": "text", "fontSize": 20, "fontWeight": "bold", "color": "#f7177e", "align": "left", "baseline": "alphabetic"},
             "encoding": {"text": {"field": "t"}}}
          ]
        },
        {
          "width": 367, "height": 106, "view": {"stroke": null},
          "encoding": {
            "x": {"field": "T", "type": "quantitative", "scale": {"domain": [100, 639], "nice": false, "zero": false},
                  "axis": {"values": [100, 150, 200, 250, 300, 350, 400, 450, 500, 550, 600], "labelExpr": "datum.value % 100 === 0 ? datum.label : ''", "labelFlush": false, "labelOverlap": false, "labelFontSize": 21, "labelColor": "black", "labelPadding": 4, "tickColor": "black", "tickWidth": 1, "tickSize": {"condition": {"test": "datum.value % 100 === 0", "value": 6}, "value": 3.5}, "domainColor": "black", "domainWidth": 1, "title": "Temperature (°C)", "titleFontSize": 25, "titleFontWeight": "normal", "titleColor": "black", "titlePadding": 10}},
            "y": {"field": "v", "type": "quantitative", "scale": {"domain": [0, 106], "nice": false, "zero": false}, "axis": {"domain": true, "domainColor": "black", "labels": false, "ticks": false, "title": null}}
          },
          "layer": [
            {"data": {"name": "B"}, "transform": [{"filter": "datum.s === 'NCX'"}],
             "mark": {"type": "line", "color": "#f68232", "strokeWidth": 1.7, "interpolate": "monotone", "clip": true}},
            {"data": {"name": "L"}, "transform": [{"filter": "datum.p === 'B' && datum.s === 'NCX' && datum.k === 'peak'"}],
             "mark": {"type": "text", "fontSize": 20, "color": "black", "align": "center", "baseline": "alphabetic"},
             "encoding": {"text": {"field": "t"}}},
            {"data": {"name": "L"}, "transform": [{"filter": "datum.p === 'B' && datum.s === 'NCX' && datum.k === 'name'"}],
             "mark": {"type": "text", "fontSize": 20, "color": "#f68232", "align": "left", "baseline": "alphabetic"},
             "encoding": {"text": {"field": "t"}}},
            {"data": {"name": "L"}, "transform": [{"filter": "datum.p === 'B' && datum.s === 'NCX' && datum.k === 'mult'"}],
             "mark": {"type": "text", "fontSize": 20, "fontWeight": "bold", "color": "#f68232", "align": "left", "baseline": "alphabetic"},
             "encoding": {"text": {"field": "t"}}}
          ]
        }
      ]
    }
  ]
}
